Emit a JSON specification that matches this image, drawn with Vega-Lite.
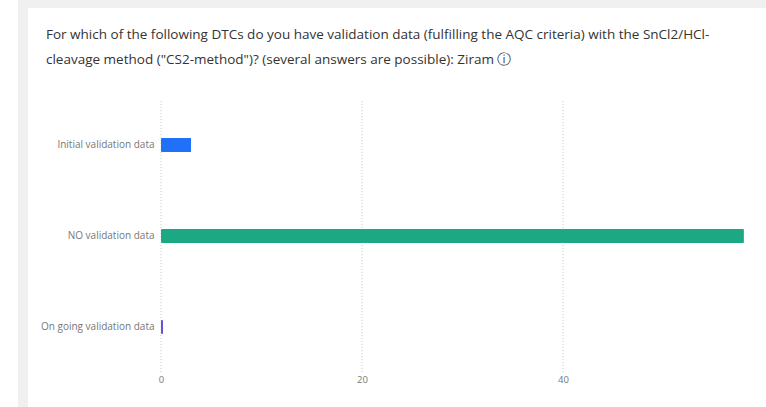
{
  "$schema": "https://vega.github.io/schema/vega-lite/v6.json",
  "width": 755,
  "height": 416,
  "autosize": {"type": "none"},
  "padding": {"left": 23, "top": 3, "right": -12, "bottom": -12},
  "background": "white",
  "view": {"fill": "white", "stroke": "#f0f0f0", "strokeWidth": 10},
  "title": {
    "text": ["For which of the following DTCs do you have validation data (fulfilling the AQC criteria) with the SnCl2/HCl-", "cleavage method (\"CS2-method\")? (several answers are possible): Ziram ⓘ"],
    "anchor": "start",
    "frame": "group",
    "dx": 23,
    "offset": -63,
    "font": "Open Sans",
    "fontSize": 13.5,
    "fontWeight": "normal",
    "color": "#333333",
    "lineHeight": 24.5
  },
  "resolve": {"scale": {"y": "independent"}},
  "layer": [
    {
      "data": {"values": [
        {"tick": 0, "from": 0, "to": 3},
        {"tick": 20, "from": 0, "to": 3},
        {"tick": 40, "from": 0, "to": 3}
      ]},
      "mark": {"type": "rule", "color": "#c4c4c4", "strokeWidth": 1, "strokeDash": [1, 2]},
      "encoding": {
        "x": {
          "field": "tick", "type": "quantitative",
          "scale": {"domain": [-13.73, 61.39], "nice": false, "zero": false},
          "axis": {"values": [0, 20, 40], "title": null, "grid": false, "domain": false, "ticks": false, "offset": -45, "labelPadding": 0, "labelFont": "Open Sans", "labelFontSize": 9.5, "labelColor": "#777777"}
        },
        "y": {"field": "from", "type": "quantitative", "scale": {"domain": [-0.516, 4.066], "nice": false, "zero": false}, "axis": null},
        "y2": {"field": "to"}
      }
    },
    {
      "data": {"values": [
        {"answer": "Initial validation data", "count": 3},
        {"answer": "NO validation data", "count": 58},
        {"answer": "On going validation data", "count": 0.2}
      ]},
      "mark": {"type": "bar", "cornerRadius": 1},
      "encoding": {
        "x": {
          "field": "count", "type": "quantitative",
          "scale": {"domain": [-13.73, 61.39], "nice": false, "zero": false},
          "axis": {"values": [0, 20, 40], "title": null, "grid": false, "domain": false, "ticks": false, "offset": -45, "labelPadding": 0, "labelFont": "Open Sans", "labelFontSize": 9.5, "labelColor": "#777777"}
        },
        "y": {
          "field": "answer", "type": "nominal",
          "scale": {"domain": [" ", "Initial validation data", "NO validation data", "On going validation data"], "paddingInner": 0.846, "paddingOuter": 0.7087, "align": 0.341},
          "axis": {"title": null, "grid": false, "domain": false, "ticks": false, "offset": -131, "labelPadding": 0, "labelFont": "Open Sans", "labelFontSize": 10, "labelColor": "#777777"}
        },
        "color": {
          "field": "answer", "type": "nominal", "legend": null,
          "scale": {"domain": ["Initial validation data", "NO validation data", "On going validation data"], "range": ["#2070f8", "#1ba882", "#6a50d8"]}
        }
      }
    }
  ]
}
